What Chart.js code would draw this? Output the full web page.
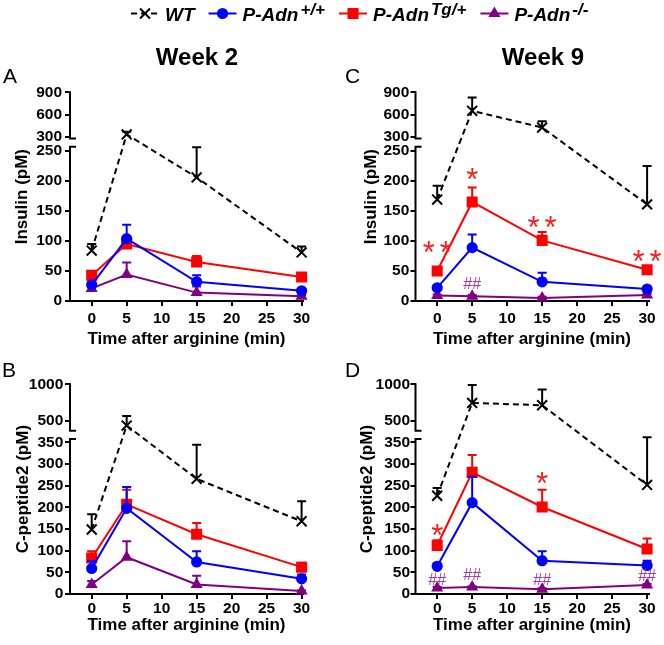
<!DOCTYPE html>
<html>
<head>
<meta charset="utf-8">
<script src="https://cdn.jsdelivr.net/npm/chart.js@4.4.0/dist/chart.umd.min.js"></script>
<style>
  body { margin: 0; background: #fff; }
  #wrap { position: relative; width: 664px; height: 645px; overflow: hidden; }
  .box { position: absolute; }
</style>
</head>
<body>
<div id="wrap">
  <div class="box" style="left:0;top:0;width:664px;height:34px"><canvas id="legend"></canvas></div>
  <div class="box" style="left:0;top:36px;width:332px;height:312px"><canvas id="chart-a"></canvas></div>
  <div class="box" style="left:332px;top:36px;width:332px;height:312px"><canvas id="chart-c"></canvas></div>
  <div class="box" style="left:0;top:346px;width:332px;height:288px"><canvas id="chart-b"></canvas></div>
  <div class="box" style="left:332px;top:346px;width:332px;height:288px"><canvas id="chart-d"></canvas></div>
</div>
<script>
// --- data (pM, mean and SEM) ---
const times = [0, 5, 15, 30];
const timeTicks = [0, 5, 10, 15, 20, 25, 30];
const insulinTicks = [0, 50, 100, 150, 200, 250, 300, 600, 900];
const cpepTicks = [0, 50, 100, 150, 200, 250, 300, 350, 500, 1000];

const seriesNames = ['WT', 'P-Adn', 'P-Adn', 'P-Adn'];
const seriesSups = ['', '+/+', 'Tg/+', '-/-'];

// A: insulin, week 2
const insW2Wt = [84, 332, 206, 81];
const insW2WtErr = [11, 36, 50, 10];
const insW2Plus = [27, 104, 32, 17];
const insW2PlusErr = [5, 23, 11, 3];
const insW2Tg = [43, 95, 65, 40];
const insW2TgErr = [4, 4, 10, 3];
const insW2Ko = [21, 44, 14, 8];
const insW2KoErr = [3, 20, 10, 2];

// C: insulin, week 9
const insW9Wt = [169, 650, 425, 161];
const insW9WtErr = [23, 180, 85, 64];
const insW9Plus = [22, 89, 32, 20];
const insW9PlusErr = [3, 22, 15, 2];
const insW9Tg = [50, 165, 101, 52];
const insW9TgErr = [3, 24, 14, 3];
const insW9Ko = [9, 8, 5, 10];
const insW9KoErr = [2, 2, 2, 2];

// B: C-peptide2, week 2
const cpW2Wt = [149, 441, 266, 168];
const cpW2WtErr = [35, 128, 79, 46];
const cpW2Plus = [59, 198, 74, 35];
const cpW2PlusErr = [17, 49, 25, 10];
const cpW2Tg = [83, 207, 138, 62];
const cpW2TgErr = [16, 34, 26, 10];
const cpW2Ko = [22, 85, 22, 7];
const cpW2KoErr = [8, 37, 20, 1];

// D: C-peptide2, week 9
const cpW9Wt = [227, 748, 716, 252];
const cpW9WtErr = [18, 243, 215, 109];
const cpW9Plus = [64, 211, 77, 66];
const cpW9PlusErr = [7, 60, 22, 11];
const cpW9Tg = [112, 281, 201, 104];
const cpW9TgErr = [12, 40, 40, 24];
const cpW9Ko = [14, 16, 11, 21];
const cpW9KoErr = [2, 2, 2, 2];

// significance marks (time, value at mark centre, text)
const sigC = [
  { x: 0, y: 93, text: '**' }, { x: 5, y: 215, text: '*' },
  { x: 15, y: 135, text: '**' }, { x: 30, y: 78, text: '**' },
  { x: 5, y: 29, text: '##' }
];
const sigD = [
  { x: 0, y: 152, text: '*' }, { x: 15, y: 272, text: '*' },
  { x: 0, y: 35, text: '##' }, { x: 5, y: 46, text: '##' },
  { x: 15, y: 35, text: '##' }, { x: 30, y: 43, text: '##' }
];

// --- styles ---
const FONT = 'Arial, "Liberation Sans", Helvetica, sans-serif';
Chart.defaults.font.family = FONT;
Chart.defaults.color = '#000';
Chart.defaults.animation = false;

const styles = [
  { color: '#000000', point: 'crossRot', radius: 7, dash: [6, 4] },
  { color: '#0000ff', point: 'circle', radius: 4.6, dash: [] },
  { color: '#ff0000', point: 'rect', radius: 6.4, dash: [] },
  { color: '#800080', point: 'triangle', radius: 5, dash: [] }
];

// y axis with a break: lower part, gap, compressed upper part
class BrokenLinearScale extends Chart.LinearScale {
  getPixelForValue(value) {
    if (value === null || value === undefined || isNaN(value)) return NaN;
    const b = this.options.brk;
    const h = this.bottom - this.top;
    const lowH = h * b.lowFrac, gapH = h * b.gapFrac, highH = h - lowH - gapH;
    if (value <= b.lowMax) return this.bottom - (value - this.min) / (b.lowMax - this.min) * lowH;
    if (value < b.highMin) return this.bottom - lowH - (value - b.lowMax) / (b.highMin - b.lowMax) * gapH;
    return this.bottom - lowH - gapH - (value - b.highMin) / (this.max - b.highMin) * highH;
  }
  getValueForPixel(pixel) {
    const b = this.options.brk;
    const h = this.bottom - this.top;
    const lowH = h * b.lowFrac, gapH = h * b.gapFrac, highH = h - lowH - gapH;
    const d = this.bottom - pixel;
    if (d <= lowH) return this.min + d / lowH * (b.lowMax - this.min);
    if (d < lowH + gapH) return b.lowMax + (d - lowH) / gapH * (b.highMin - b.lowMax);
    return b.highMin + (d - lowH - gapH) / highH * (this.max - b.highMin);
  }
}
BrokenLinearScale.id = 'brokenLinear';
BrokenLinearScale.defaults = {};
Chart.register(BrokenLinearScale);

const errorBarPlugin = {
  id: 'errorBars',
  beforeDatasetDraw(chart, args) {
    const ds = chart.data.datasets[args.index];
    if (!ds.errors) return;
    const yScale = chart.scales.y;
    const ctx = chart.ctx;
    ctx.save();
    ctx.strokeStyle = ds.borderColor;
    ctx.lineWidth = 2;
    args.meta.data.forEach((pt, i) => {
      const top = yScale.getPixelForValue(ds.data[i].y + ds.errors[i]);
      ctx.beginPath();
      ctx.moveTo(pt.x, pt.y);
      ctx.lineTo(pt.x, top);
      ctx.moveTo(pt.x - 4.5, top);
      ctx.lineTo(pt.x + 4.5, top);
      ctx.stroke();
    });
    ctx.restore();
  }
};

const brokenAxisPlugin = {
  id: 'brokenAxis',
  beforeDatasetsDraw(chart) {
    const y = chart.scales.y;
    const b = y.options.brk;
    const x0 = chart.chartArea.left;
    const pLow = y.getPixelForValue(b.lowMax);
    const pHigh = y.getPixelForValue(b.highMin);
    const ctx = chart.ctx;
    ctx.save();
    ctx.strokeStyle = '#000';
    ctx.lineWidth = 2;
    ctx.beginPath();
    ctx.moveTo(x0, y.bottom + 1);
    ctx.lineTo(x0, pLow);
    ctx.moveTo(x0 - 1, pLow);
    ctx.lineTo(x0 + 6, pLow);
    ctx.moveTo(x0, pHigh);
    ctx.lineTo(x0, y.top - 1);
    ctx.moveTo(x0 - 1, pHigh);
    ctx.lineTo(x0 + 6, pHigh);
    ctx.stroke();
    ctx.restore();
  }
};

function sigPlugin(marks) {
  return {
    id: 'sigMarks',
    afterDatasetsDraw(chart) {
      const { ctx, scales: { x, y } } = chart;
      ctx.save();
      ctx.textAlign = 'center';
      ctx.textBaseline = 'alphabetic';
      marks.forEach(m => {
        const px = x.getPixelForValue(m.x);
        const py = y.getPixelForValue(m.y);
        if (m.text.includes('*')) {
          // each star on its own, a little apart, like the figure
          const n = m.text.length, size = 31;
          ctx.font = size + 'px ' + FONT;
          ctx.fillStyle = '#ff1a1a';
          for (let k = 0; k < n; k++) {
            ctx.fillText('*', px + (k - (n - 1) / 2) * 17, py + size * 0.58);
          }
        } else {
          ctx.font = '16px ' + FONT;
          ctx.fillStyle = '#a23aa2';
          ctx.fillText(m.text, px, py + 16 * 0.36);
        }
      });
      ctx.restore();
    }
  };
}

function panelTextPlugin(p) {
  return {
    id: 'panelText',
    afterDraw(chart) {
      const ctx = chart.ctx;
      ctx.save();
      ctx.fillStyle = '#000';
      ctx.textBaseline = 'alphabetic';
      ctx.font = '21px ' + FONT;
      ctx.textAlign = 'left';
      ctx.fillText(p.letter, p.letterX, p.letterY);
      if (p.title) {
        ctx.font = 'bold 24px ' + FONT;
        ctx.textAlign = 'center';
        ctx.fillText(p.title, p.titleX, p.titleY);
      }
      ctx.restore();
    }
  };
}

function makeDatasets(values, errors) {
  return values.map((vals, i) => ({
    label: seriesNames[i],
    data: times.map((t, j) => ({ x: t, y: vals[j] })),
    errors: errors[i],
    borderColor: styles[i].color,
    backgroundColor: styles[i].color,
    pointBackgroundColor: styles[i].color,
    pointBorderColor: styles[i].color,
    pointStyle: styles[i].point,
    pointRadius: styles[i].radius,
    pointBorderWidth: 2,
    borderWidth: 2,
    borderDash: styles[i].dash,
    tension: 0,
    clip: false
  }));
}

function panelConfig(p) {
  return {
    type: 'line',
    data: { datasets: makeDatasets(p.values, p.errors) },
    options: {
      responsive: true,
      maintainAspectRatio: false,
      layout: { padding: { left: 0, right: p.padRight, top: p.padTop, bottom: 0 } },
      scales: {
        x: {
          type: 'linear',
          min: -3.1,
          max: 30.2,
          afterBuildTicks: s => { s.ticks = timeTicks.map(v => ({ value: v })); },
          afterFit: s => { s.height = p.xHeight; },
          grid: { drawOnChartArea: false, color: '#000', lineWidth: 2, tickLength: 5 },
          border: { color: '#000', width: 2 },
          ticks: { color: '#000', font: { size: 15.5, weight: 'bold' }, padding: p.xPad, maxRotation: 0 },
          title: { display: true, text: 'Time after arginine (min)', color: '#000',
                   font: { size: 17, weight: 'bold', lineHeight: 1 }, padding: 0 }
        },
        y: {
          type: 'brokenLinear',
          min: 0,
          max: p.yMax,
          brk: p.brk,
          afterBuildTicks: s => { s.ticks = p.yTicks.map(v => ({ value: v })); },
          afterFit: s => { s.width = p.yWidth; },
          grid: { drawOnChartArea: false, color: '#000', lineWidth: 2, tickLength: 5 },
          border: { display: false },
          ticks: { color: '#000', font: { size: 15.5, weight: 'bold' }, padding: p.yPad,
                   callback: v => String(v) },
          title: { display: true, text: p.yTitle, color: '#000',
                   font: { size: 17, weight: 'bold' }, padding: { top: p.yTitlePad, bottom: 0 } }
        }
      },
      plugins: { legend: { display: false }, tooltip: { enabled: false } }
    },
    plugins: [errorBarPlugin, brokenAxisPlugin, sigPlugin(p.marks), panelTextPlugin(p)]
  };
}

const insulinBreak = { lowMax: 257, highMin: 278, lowFrac: 0.739, gapFrac: 0.04 };
const cpepBreak = { lowMax: 358, highMin: 372, lowFrac: 0.739, gapFrac: 0.04 };

new Chart(document.getElementById('chart-a'), panelConfig({
  values: [insW2Wt, insW2Plus, insW2Tg, insW2Ko],
  errors: [insW2WtErr, insW2PlusErr, insW2TgErr, insW2KoErr],
  yTicks: insulinTicks, yMax: 900, brk: insulinBreak, yTitle: 'Insulin (pM)',
  padRight: 29, padTop: 56.3, yWidth: 70, xHeight: 47, yTitlePad: 12.5, xPad: 3.5, yPad: 3,
  marks: [], letter: 'A', letterX: 3, letterY: 47.3, title: 'Week 2', titleX: 197, titleY: 29
}));

new Chart(document.getElementById('chart-c'), panelConfig({
  values: [insW9Wt, insW9Plus, insW9Tg, insW9Ko],
  errors: [insW9WtErr, insW9PlusErr, insW9TgErr, insW9KoErr],
  yTicks: insulinTicks, yMax: 900, brk: insulinBreak, yTitle: 'Insulin (pM)',
  padRight: 15.5, padTop: 56.3, yWidth: 83.5, xHeight: 47, yTitlePad: 29, xPad: 3.5, yPad: 1.2,
  marks: sigC, letter: 'C', letterX: 13, letterY: 47.3, title: 'Week 9', titleX: 211, titleY: 29
}));

new Chart(document.getElementById('chart-b'), panelConfig({
  values: [cpW2Wt, cpW2Plus, cpW2Tg, cpW2Ko],
  errors: [cpW2WtErr, cpW2PlusErr, cpW2TgErr, cpW2KoErr],
  yTicks: cpepTicks, yMax: 1000, brk: cpepBreak, yTitle: 'C-peptide2 (pM)',
  padRight: 29, padTop: 38.3, yWidth: 70, xHeight: 40, yTitlePad: 13, xPad: 0.5, yPad: 1.7,
  marks: [], letter: 'B', letterX: 2, letterY: 31
}));

new Chart(document.getElementById('chart-d'), panelConfig({
  values: [cpW9Wt, cpW9Plus, cpW9Tg, cpW9Ko],
  errors: [cpW9WtErr, cpW9PlusErr, cpW9TgErr, cpW9KoErr],
  yTicks: cpepTicks, yMax: 1000, brk: cpepBreak, yTitle: 'C-peptide2 (pM)',
  padRight: 15.5, padTop: 38.3, yWidth: 83.5, xHeight: 40, yTitlePad: 25.5, xPad: 0.5, yPad: 0.5,
  marks: sigD, letter: 'D', letterX: 13, letterY: 31
}));

// shared legend across the top
const legendPlugin = {
  id: 'figLegend',
  afterDraw(chart) {
    const ctx = chart.ctx;
    const lineY = 13.5, iconW = 28;
    let x = 131;
    chart.data.datasets.forEach((ds, i) => {
      const st = styles[i];
      ctx.save();
      ctx.strokeStyle = st.color;
      ctx.fillStyle = st.color;
      ctx.lineWidth = 2;
      ctx.setLineDash(st.dash);
      ctx.beginPath();
      ctx.moveTo(x, lineY);
      ctx.lineTo(x + iconW, lineY);
      ctx.stroke();
      ctx.setLineDash([]);
      Chart.helpers.drawPoint(ctx, { pointStyle: st.point, radius: st.radius, borderWidth: 2, rotation: 0 },
        x + iconW / 2, lineY);
      ctx.restore();
      x += iconW + 6;
      ctx.fillStyle = '#000';
      ctx.textAlign = 'left';
      ctx.textBaseline = 'alphabetic';
      ctx.font = 'italic bold 19px ' + FONT;
      ctx.fillText(ds.label, x, 20.5);
      x += ctx.measureText(ds.label).width;
      if (seriesSups[i]) {
        x += 2;
        ctx.font = 'italic bold 17px ' + FONT;
        ctx.fillText(seriesSups[i], x, 15);
        x += ctx.measureText(seriesSups[i]).width;
      }
      x += 14;
    });
  }
};

new Chart(document.getElementById('legend'), {
  type: 'line',
  data: { datasets: seriesNames.map(n => ({ label: n, data: [] })) },
  options: {
    responsive: true,
    maintainAspectRatio: false,
    scales: { x: { display: false }, y: { display: false } },
    plugins: { legend: { display: false }, tooltip: { enabled: false } }
  },
  plugins: [legendPlugin]
});
</script>
</body>
</html>
